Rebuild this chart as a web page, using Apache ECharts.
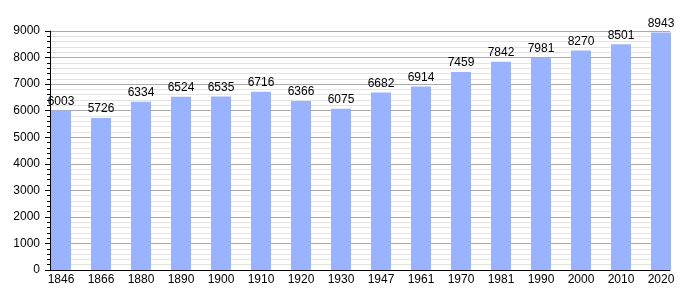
<!DOCTYPE html>
<html><head><meta charset="utf-8">
<script src="https://cdn.jsdelivr.net/npm/echarts@6/dist/echarts.min.js"></script>
<style>html,body{margin:0;padding:0;background:#fff}#c{width:700px;height:300px}</style>
</head><body><div id="c"></div>
<script>
const years = ['1846','1866','1880','1890','1900','1910','1920','1930','1947','1961','1970','1981','1990','2000','2010','2020'];
const population = [6003,5726,6334,6524,6535,6716,6366,6075,6682,6914,7459,7842,7981,8270,8501,8943];
const yMax = 9000, yStep = 1000;

const chart = echarts.init(document.getElementById('c'));
const font = 'Liberation Sans, Arial, sans-serif';
chart.setOption({
  animation: false,
  grid: [
    {left: 50, width: 620, top: 31, height: 239},
    {left: 41, width: 640, top: 31, height: 239}
  ],
  xAxis: [
    {gridIndex: 0, type: 'category', data: years, boundaryGap: true,
     axisLine: {lineStyle: {color: '#000', width: 1}}, axisTick: {show: false},
     axisLabel: {show: false}, splitLine: {show: false}},
    {gridIndex: 1, type: 'category', data: years, boundaryGap: true,
     axisLine: {show: false}, axisTick: {show: false},
     axisLabel: {color: '#000', fontSize: 12, fontFamily: font, margin: 4}}
  ],
  yAxis: [
    {gridIndex: 0, type: 'value', min: 0, max: yMax, interval: yStep,
     axisLine: {show: true, lineStyle: {color: '#000'}},
     axisTick: {show: true, length: 5, lineStyle: {color: '#000'}},
     minorTick: {show: true, splitNumber: 5, length: 3, lineStyle: {color: '#000'}},
     axisLabel: {color: '#000', fontSize: 12, fontFamily: font, margin: 10, formatter: v => String(v)},
     splitLine: {show: true, lineStyle: {color: '#aaaaaa', width: 1}},
     minorSplitLine: {show: true, lineStyle: {color: '#e3e3e3', width: 1}}},
    {gridIndex: 1, type: 'value', min: 0, max: yMax, interval: yStep, show: false,
     splitLine: {show: false}}
  ],
  series: [{
    type: 'bar', xAxisIndex: 1, yAxisIndex: 1, data: population, barWidth: 20,
    itemStyle: {color: '#99b3ff'},
    label: {show: true, position: 'top', distance: 3, color: '#000', fontSize: 12, fontFamily: font}
  }]
});
</script></body></html>
